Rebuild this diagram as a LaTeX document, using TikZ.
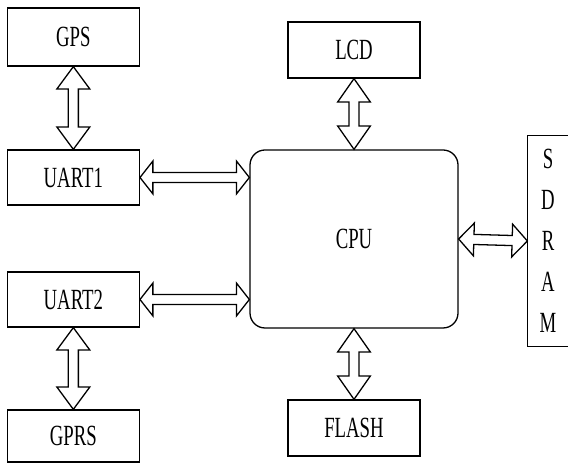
\documentclass[tikz,border=0pt]{standalone}
\usepackage{fontspec}
\setmainfont{Liberation Serif}
\usepackage{graphicx}
\usetikzlibrary{calc}
\newcommand{\slim}[1]{\scalebox{0.64}[1]{#1}}
\tikzset{
  box/.style={draw, line width=1.1pt, minimum width=3.96cm, minimum height=1.68cm, inner sep=0pt, font=\fontsize{25}{35}\selectfont},
  bus/.style={line width=1.1pt, to path={let \p1=(\tikztostart), \p2=(\tikztotarget),
    \n1={atan2(\y2-\y1,\x2-\x1)}, \n2={veclen(\x2-\x1,\y2-\y1)}, \n3={\n2-#1} in
    {[shift={(\p1)}, rotate=\n1, x=1pt, y=1pt] (0,0) -- (#1,14) -- (#1,4.3) -- (\n3,4.3) -- (\n3,14) -- (\n2,0)
     -- (\n3,-14) -- (\n3,-4.3) -- (#1,-4.3) -- (#1,-14) -- cycle}}},
  bus/.default=11
}
\begin{document}
\begin{tikzpicture}
  \useasboundingbox (0,0) rectangle (17.04,13.95);
  \node[box, minimum height=1.74cm] (gps) at (2.2,12.84) {\slim{GPS}};
  \node[box, minimum height=1.65cm] (uart1) at (2.2,8.625) {\slim{UART1}};
  \node[box, minimum height=1.65cm] (uart2) at (2.2,4.965) {\slim{UART2}};
  \node[box, minimum height=1.56cm] (gprs) at (2.2,0.87) {\slim{GPRS}};
  \node[box] (lcd) at (10.62,12.45) {\slim{LCD}};
  \node[box] (flash) at (10.62,1.11) {\slim{FLASH}};
  \node[box, rounded corners=0.45cm, minimum width=6.24cm, minimum height=5.34cm] (cpu) at (10.62,6.78) {\slim{CPU}};
  \node[box, draw=none, minimum width=1.2cm, minimum height=6.3cm, align=center] (sdram) at (16.44,6.72)
    {\slim{S}\\\slim{D}\\\slim{R}\\\slim{A}\\\slim{M}};
  \draw[line width=1.1pt] (sdram.north east) -- (sdram.north west) -- (sdram.south west) -- (sdram.south east);
  \coordinate (cpu1) at (uart1.east -| cpu.west);
  \coordinate (cpu2) at (uart2.east -| cpu.west);
  \draw[bus=19] (gps.south) to (uart1.north);
  \draw[bus=19] (uart2.south) to (gprs.north);
  \draw[bus=20] (lcd.south) to (cpu.north);
  \draw[bus=20] (cpu.south) to (flash.north);
  \draw[bus] (uart1.east) to (cpu1);
  \draw[bus] (uart2.east) to (cpu2);
  \draw[bus=13] (cpu.east) to (sdram.west);
\end{tikzpicture}
\end{document}
